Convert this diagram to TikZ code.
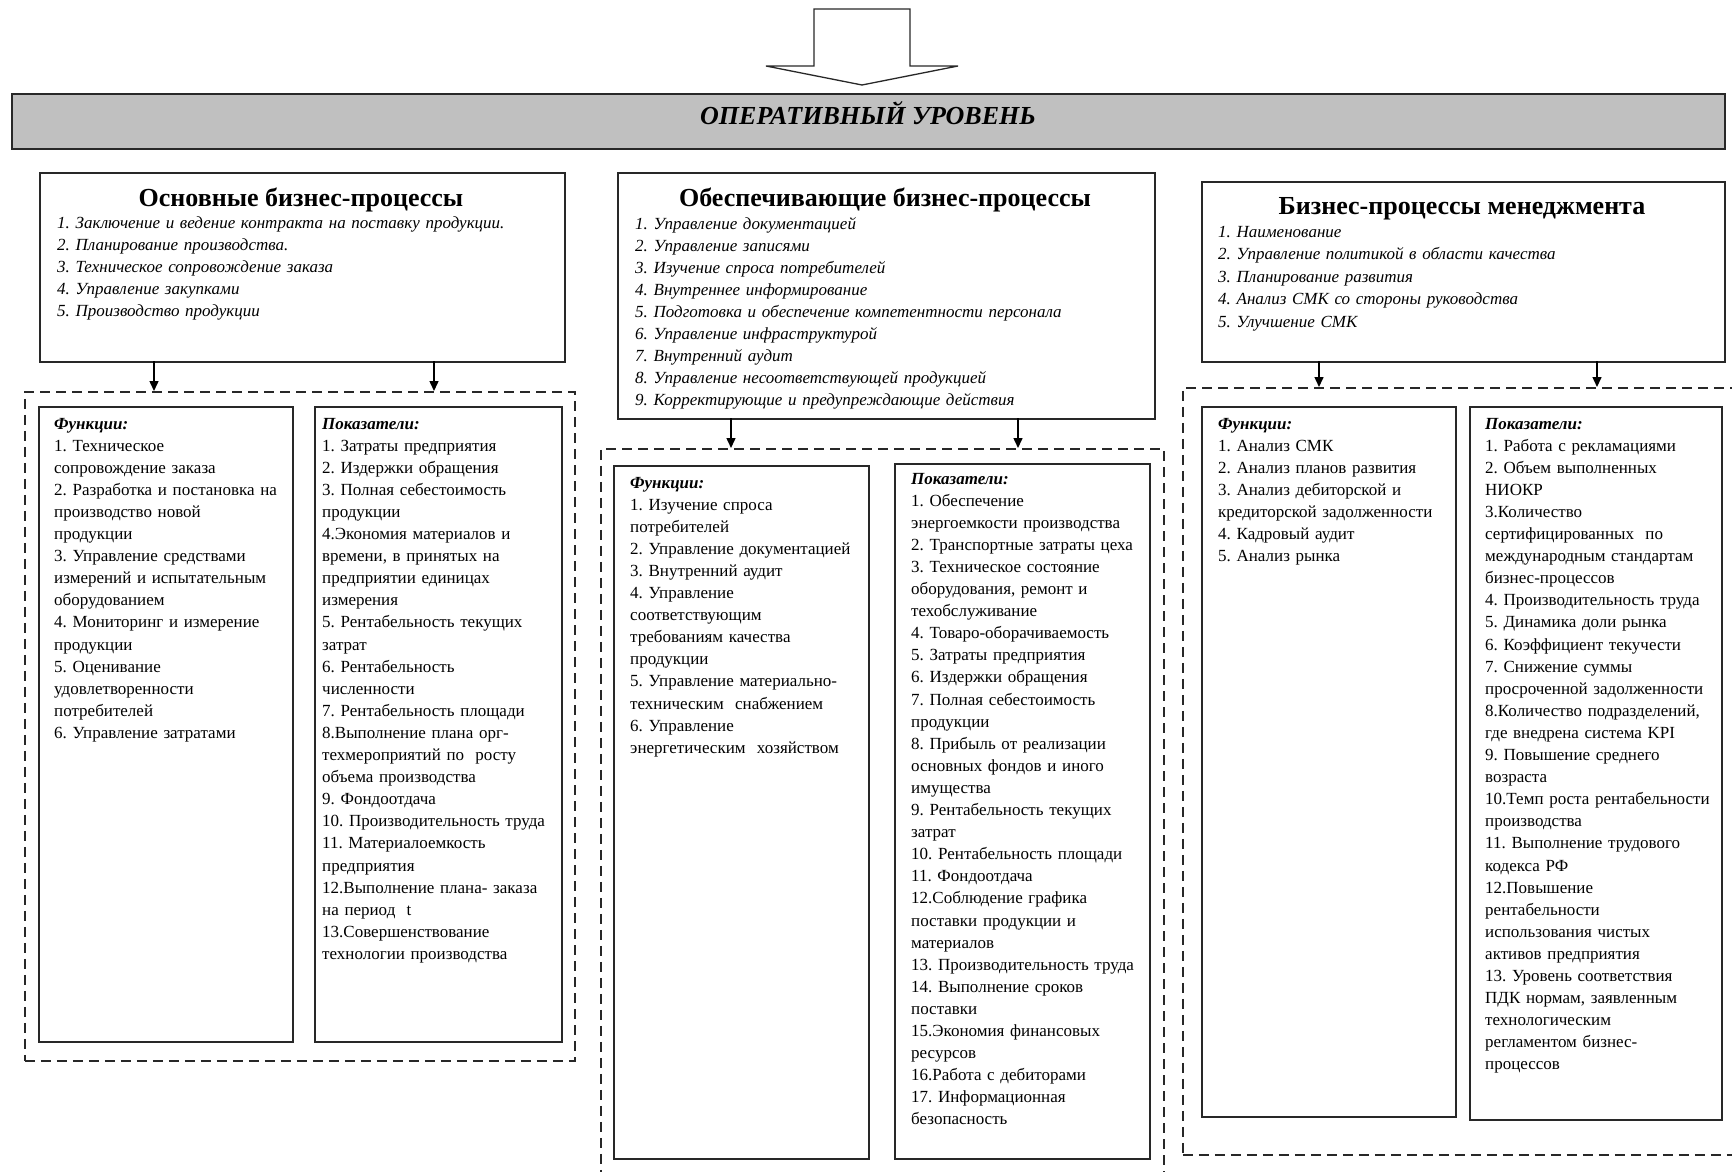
\documentclass[tikz,border=0pt]{standalone}
\usepackage{fontspec}
\setmainfont{Liberation Serif}
\usetikzlibrary{arrows.meta}
\definecolor{barfill}{RGB}{192,192,192}
\definecolor{edge}{RGB}{40,40,40}
\frenchspacing
\begin{document}
\begin{tikzpicture}[x=1pt,y=-1pt,
  box/.style={draw=edge, line width=1.6pt, fill=white, inner sep=0pt, anchor=north west},
  dbox/.style={draw=edge, line width=1.6pt, dash pattern=on 10pt off 6pt, inner sep=0pt, anchor=north west},
  txt/.style={anchor=base west, inner sep=0pt, align=left, text width=330pt, font=\fontsize{17}{22.1}\selectfont},
  ital/.style={anchor=base west, inner sep=0pt, align=left, text width=520pt, font=\fontsize{17}{22}\itshape\selectfont},
  hd/.style={anchor=base, inner sep=0pt, font=\fontsize{26}{30}\bfseries\selectfont},
  arr/.style={draw=black, line width=1.5pt, -{Triangle[width=9pt,length=10pt]}}
]
\useasboundingbox (0,0) rectangle (1732,1172);
\clip (0,0) rectangle (1732,1172);
\fill[white] (0,0) rectangle (1732,1172);

% big arrow
\draw[draw=edge, line width=1.3pt, fill=white, line join=miter]
  (814,9) -- (910,9) -- (910,66) -- (958,66) -- (862,85) -- (766,66) -- (814,66) -- cycle;

% level bar
\node[box, fill=barfill, line width=2pt, minimum width=1713pt, minimum height=55pt] (lvl) at (11,93) {};
\node[anchor=base, inner sep=0pt, font=\fontsize{26}{30}\bfseries\itshape\selectfont] (lvlt) at (868,124) {ОПЕРАТИВНЫЙ УРОВЕНЬ};

% top boxes
\node[box, minimum width=525pt, minimum height=189pt] (b1) at (39,172) {};
\node[box, minimum width=537pt, minimum height=246pt] (b2) at (617,172) {};
\node[box, minimum width=523pt, minimum height=180pt] (b3) at (1201,181) {};

\node[hd] (h1) at (301,206) {Основные бизнес-процессы};
\node[hd] (h2) at (885,206) {Обеспечивающие бизнес-процессы};
\node[hd] (h3) at (1462,214) {Бизнес-процессы менеджмента};

\node[ital] (l1) at (57,228) {1. Заключение и ведение контракта на поставку продукции.\\
2. Планирование производства.\\
3. Техническое сопровождение заказа\\
4. Управление закупками\\
5. Производство продукции};

\node[ital] (l2) at (635,229) {1. Управление документацией\\
2. Управление записями\\
3. Изучение спроса потребителей\\
4. Внутреннее информирование\\
5. Подготовка и обеспечение компетентности персонала\\
6. Управление инфраструктурой\\
7. Внутренний аудит\\
8. Управление несоответствующей продукцией\\
9. Корректирующие и предупреждающие действия};

\node[ital, font=\fontsize{17}{22.6}\itshape\selectfont] (l3) at (1218,237) {1. Наименование\\
2. Управление политикой в области качества\\
3. Планирование развития\\
4. Анализ СМК со стороны руководства\\
5. Улучшение СМК};

% dashed groups
\node[dbox, minimum width=550pt, minimum height=669pt] (d1) at (24,391) {};
\node[dbox, minimum width=563pt, minimum height=745pt] (d2) at (600,448) {};
\node[dbox, minimum width=575pt, minimum height=767pt] (d3) at (1182,387) {};

% inner boxes
\node[box, minimum width=254pt, minimum height=635pt] (f1) at (38,406) {};
\node[box, minimum width=247pt, minimum height=635pt] (p1) at (314,406) {};
\node[box, minimum width=255pt, minimum height=693pt] (f2) at (613,465) {};
\node[box, minimum width=255pt, minimum height=695pt] (p2) at (894,463) {};
\node[box, minimum width=254pt, minimum height=710pt] (f3) at (1201,406) {};
\node[box, minimum width=252pt, minimum height=713pt] (p3) at (1469,406) {};

% connectors
\coordinate (a1) at (154,361);
\coordinate (a2) at (434,361);
\coordinate (a3) at (731,418);
\coordinate (a4) at (1018,418);
\coordinate (a5) at (1319,361);
\coordinate (a6) at (1597,361);
\draw[arr] (a1) -- (a1 |- d1.north);
\draw[arr] (a2) -- (a2 |- d1.north);
\draw[arr] (a3) -- (a3 |- d2.north);
\draw[arr] (a4) -- (a4 |- d2.north);
\draw[arr] (a5) -- (a5 |- d3.north);
\draw[arr] (a6) -- (a6 |- d3.north);

% texts of inner boxes
\node[txt] (tf1) at (54,429) {\textbf{\textit{Функции:}}\\
1. Техническое\\
сопровождение заказа\\
2. Разработка и постановка на\\
производство новой\\
продукции\\
3. Управление средствами\\
измерений и испытательным\\
оборудованием\\
4. Мониторинг и измерение\\
продукции\\
5. Оценивание\\
удовлетворенности\\
потребителей\\
6. Управление затратами};

\node[txt] (tp1) at (322,429) {\textbf{\textit{Показатели:}}\\
1. Затраты предприятия\\
2. Издержки обращения\\
3. Полная себестоимость\\
продукции\\
4.Экономия материалов и\\
времени, в принятых на\\
предприятии единицах\\
измерения\\
5. Рентабельность текущих\\
затрат\\
6. Рентабельность\\
численности\\
7. Рентабельность площади\\
8.Выполнение плана орг-\\
техмероприятий по\ \ росту\\
объема производства\\
9. Фондоотдача\\
10. Производительность труда\\
11. Материалоемкость\\
предприятия\\
12.Выполнение плана- заказа\\
на период\ \ t\\
13.Совершенствование\\
технологии производства};

\node[txt] (tf2) at (630,488) {\textbf{\textit{Функции:}}\\
1. Изучение спроса\\
потребителей\\
2. Управление документацией\\
3. Внутренний аудит\\
4. Управление\\
соответствующим\\
требованиям качества\\
продукции\\
5. Управление материально-\\
техническим\ \ снабжением\\
6. Управление\\
энергетическим\ \ хозяйством};

\node[txt] (tp2) at (911,484) {\textbf{\textit{Показатели:}}\\
1. Обеспечение\\
энергоемкости производства\\
2. Транспортные затраты цеха\\
3. Техническое состояние\\
оборудования, ремонт и\\
техобслуживание\\
4. Товаро-оборачиваемость\\
5. Затраты предприятия\\
6. Издержки обращения\\
7. Полная себестоимость\\
продукции\\
8. Прибыль от реализации\\
основных фондов и иного\\
имущества\\
9. Рентабельность текущих\\
затрат\\
10. Рентабельность площади\\
11. Фондоотдача\\
12.Соблюдение графика\\
поставки продукции и\\
материалов\\
13. Производительность труда\\
14. Выполнение сроков\\
поставки\\
15.Экономия финансовых\\
ресурсов\\
16.Работа с дебиторами\\
17. Информационная\\
безопасность};

\node[txt] (tf3) at (1218,429) {\textbf{\textit{Функции:}}\\
1. Анализ СМК\\
2. Анализ планов развития\\
3. Анализ дебиторской и\\
кредиторской задолженности\\
4. Кадровый аудит\\
5. Анализ рынка};

\node[txt] (tp3) at (1485,429) {\textbf{\textit{Показатели:}}\\
1. Работа с рекламациями\\
2. Объем выполненных\\
НИОКР\\
3.Количество\\
сертифицированных\ \ по\\
международным стандартам\\
бизнес-процессов\\
4. Производительность труда\\
5. Динамика доли рынка\\
6. Коэффициент текучести\\
7. Снижение суммы\\
просроченной задолженности\\
8.Количество подразделений,\\
где внедрена система KPI\\
9. Повышение среднего\\
возраста\\
10.Темп роста рентабельности\\
производства\\
11. Выполнение трудового\\
кодекса РФ\\
12.Повышение\\
рентабельности\\
использования чистых\\
активов предприятия\\
13. Уровень соответствия\\
ПДК нормам, заявленным\\
технологическим\\
регламентом бизнес-\\
процессов};
\end{tikzpicture}
\end{document}
